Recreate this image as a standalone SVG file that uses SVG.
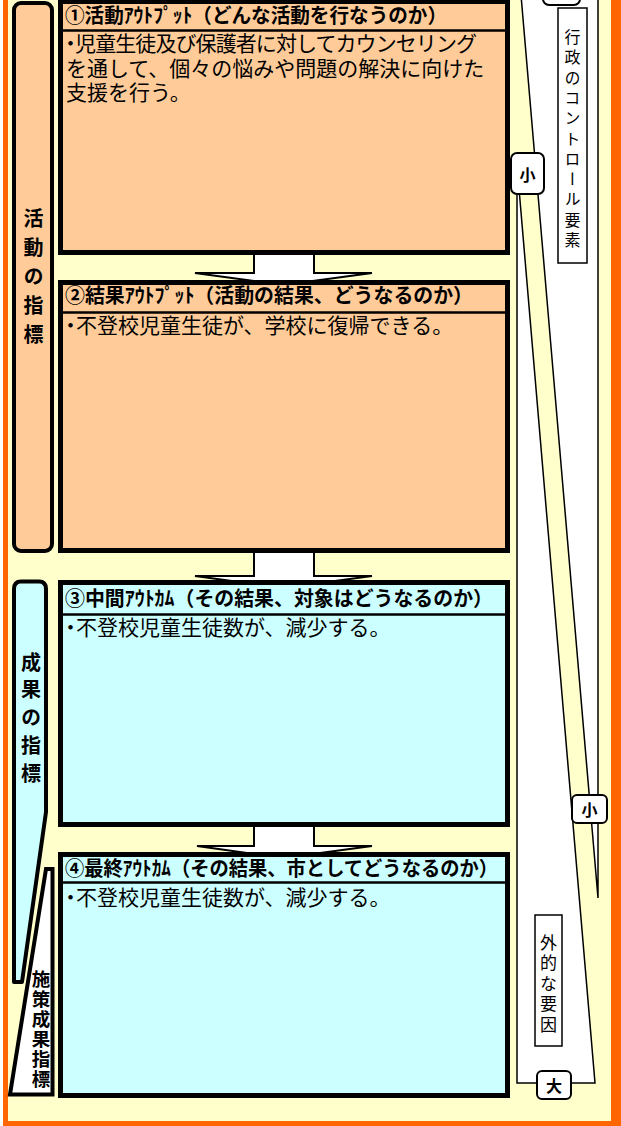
<svg xmlns="http://www.w3.org/2000/svg" width="621" height="1126" viewBox="0 0 621 1126">
<style>
.frame{fill:#FFFFCC;stroke:#FF6600;stroke-width:5}
.box{stroke:#000;stroke-width:5}
.peach{fill:#FFCC99}
.cyan{fill:#CCFFFF}
.div{stroke:#000;stroke-width:2.5}
.title{font-family:"Noto Sans CJK JP","Noto Sans CJK SC",sans-serif;font-size:20px;font-weight:700;fill:#000}
.body{font-family:"Noto Sans CJK JP","Noto Sans CJK SC",sans-serif;font-size:21px;fill:#000}
.lbl{font-family:"Noto Sans CJK JP","Noto Sans CJK SC",sans-serif;font-weight:700;font-size:20px;writing-mode:vertical-rl;fill:#000}
.arrow{fill:#fff;stroke:#000;stroke-width:2;stroke-linejoin:miter}
.wedge{fill:#fff;stroke:#000;stroke-width:1.5}
.tag{fill:#fff;stroke:#000;stroke-width:2}
.tagt{font-family:"Noto Sans CJK JP","Noto Sans CJK SC",sans-serif;font-weight:700;font-size:16px;text-anchor:middle;dominant-baseline:central;fill:#000}
.vbox{fill:#fff;stroke:#000;stroke-width:1.5}
.vt{font-family:"Noto Sans CJK JP","Noto Sans CJK SC",sans-serif;font-size:16px;writing-mode:vertical-rl;fill:#000}
.lab{stroke:#000;stroke-width:4;stroke-linejoin:round}
</style>

<rect class="frame" x="5.5" y="-10" width="608" height="1133.5"/>
<rect x="613" y="0" width="8" height="1126" fill="#FF6600"/>

<g id="wedges">
  <polygon class="wedge" points="521,-5 598,-5 598,898"/>
  <polygon class="wedge" points="517,165 595,1083 517,1083"/>
</g>

<g id="control-label">
  <rect class="vbox" x="558" y="8" width="29" height="255"/>
  <text class="vt" x="572.5" y="29" style="letter-spacing:4.3px">行政のコントロール要素</text>
</g>
<g id="external-label">
  <rect class="vbox" x="535" y="915" width="27" height="131"/>
  <text class="vt" x="548.5" y="934" style="font-size:17px;letter-spacing:3.5px">外的な要因</text>
</g>
<g id="tag-top-large">
  <rect class="tag" x="543" y="-23" width="37" height="28" rx="6"/>
</g>
<g id="tag-small-upper">
  <rect class="tag" x="511" y="153" width="33" height="41" rx="6"/>
  <text class="tagt" x="527.5" y="173.5">小</text>
</g>
<g id="tag-small-lower">
  <rect class="tag" x="572" y="795" width="35" height="28" rx="5"/>
  <text class="tagt" x="589.5" y="809">小</text>
</g>
<g id="tag-large-bottom">
  <rect class="tag" x="537" y="1071" width="34" height="28" rx="5"/>
  <text class="tagt" x="554" y="1085">大</text>
</g>

<g id="connectors">
  <polygon class="arrow" points="254,250 314,250 314,273 372,273 283,285 195,273 254,273"/>
  <polygon class="arrow" points="254,548 314,548 314,576 372,576 283,588 195,576 254,576"/>
  <polygon class="arrow" points="254,822 314,822 314,846 372,846 283,858 197,846 254,846"/>
</g>

<g id="label-activity">
  <rect class="lab peach" x="14" y="3" width="38" height="548" rx="7"/>
  <text class="lbl" x="33.5" y="208" style="letter-spacing:9px">活動の指標</text>
</g>

<g id="label-result">
  <path class="lab cyan" d="M14,589 Q14,581.5 21,581.5 L39,581.5 Q46,581.5 46,589 L46,812 L22,982 L14,982 Z"/>
  <text class="lbl" x="31" y="652" style="letter-spacing:7.75px">成果の指標</text>
</g>

<g id="label-policy">
  <polygon class="lab" fill="#fff" style="stroke-linejoin:miter" points="46,869 52.5,869 52.5,1094.5 10,1094.5"/>
  <text class="lbl" x="41" y="970" style="font-size:18.5px;letter-spacing:1.5px">施策成果指標</text>
</g>

<g id="box1">
  <rect class="box peach" x="60.5" y="1.5" width="447" height="251"/>
  <line class="div" x1="60" y1="30.5" x2="508" y2="30.5"/>
  <text class="title" x="65" y="23" textLength="382" lengthAdjust="spacingAndGlyphs">①活動ｱｳﾄﾌﾟｯﾄ（どんな活動を行なうのか）</text>
  <text class="body" x="60" y="51" dx="0 -5" textLength="417">・児童生徒及び保護者に対してカウンセリング</text>
  <text class="body" x="66" y="76">を通して、個々の悩みや問題の解決に向けた</text>
  <text class="body" x="66" y="100">支援を行う。</text>
</g>

<g id="box2">
  <rect class="box peach" x="60.5" y="282.5" width="447" height="268"/>
  <line class="div" x1="60" y1="312.5" x2="508" y2="312.5"/>
  <text class="title" x="65" y="303" textLength="408" lengthAdjust="spacingAndGlyphs">②結果ｱｳﾄﾌﾟｯﾄ（活動の結果、どうなるのか）</text>
  <text class="body" x="60" y="333" dx="0 -5">・不登校児童生徒が、学校に復帰できる。</text>
</g>

<g id="box3">
  <rect class="box cyan" x="60.5" y="582.5" width="447" height="242"/>
  <line class="div" x1="60" y1="614.5" x2="508" y2="614.5"/>
  <text class="title" x="65" y="606" textLength="428" lengthAdjust="spacingAndGlyphs">③中間ｱｳﾄｶﾑ（その結果、対象はどうなるのか）</text>
  <text class="body" x="60" y="635" dx="0 -5">・不登校児童生徒数が、減少する。</text>
</g>

<g id="box4">
  <rect class="box cyan" x="60.5" y="854.5" width="447" height="241"/>
  <line class="div" x1="60" y1="882.5" x2="508" y2="882.5"/>
  <text class="title" x="65" y="876" textLength="433" lengthAdjust="spacingAndGlyphs">④最終ｱｳﾄｶﾑ（その結果、市としてどうなるのか）</text>
  <text class="body" x="60" y="905" dx="0 -5">・不登校児童生徒数が、減少する。</text>
</g>
</svg>
